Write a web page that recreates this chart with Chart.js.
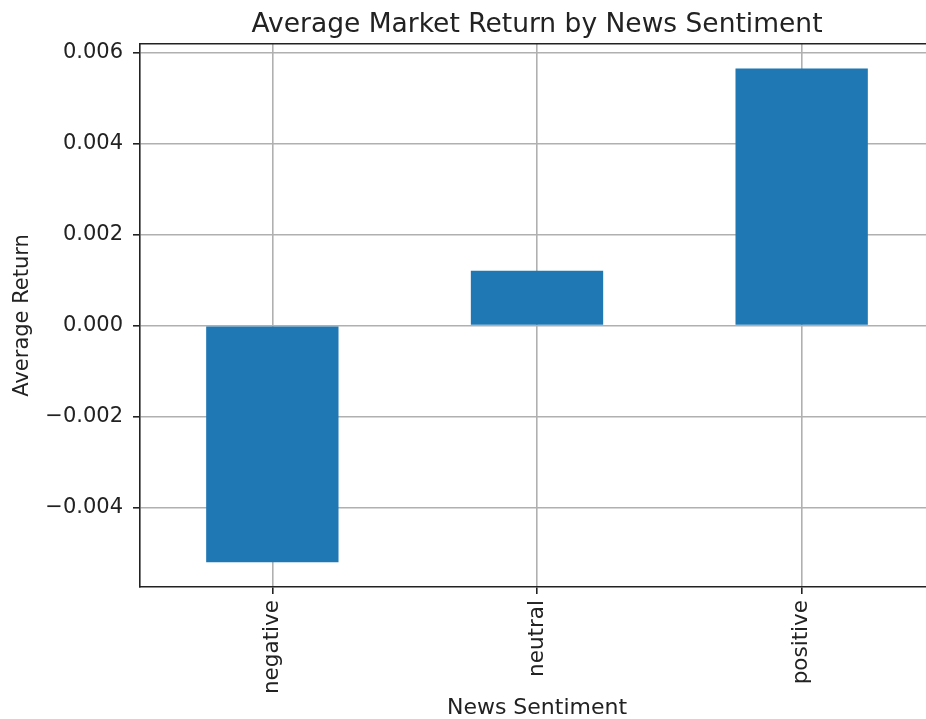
<!DOCTYPE html>
<html>
<head>
<meta charset="utf-8">
<script src="https://cdn.jsdelivr.net/npm/chart.js@4"></script>
<style>
  html, body { margin: 0; padding: 0; background: #fff; overflow: hidden; }
  canvas { display: block; }
</style>
</head>
<body>
<canvas id="myChart" width="940" height="719"></canvas>
<script>
var categories = ['negative', 'neutral', 'positive'];
var avgReturns = [-0.00521, 0.00121, 0.00566];
var yTickValues = [-0.004, -0.002, 0, 0.002, 0.004, 0.006];

// matplotlib-style 5% margins around the data
var dataMin = Math.min(0, Math.min.apply(null, avgReturns));
var dataMax = Math.max(0, Math.max.apply(null, avgReturns));
var margin = (dataMax - dataMin) * 0.05;

var textColor = '#222222';
var gridColor = '#b0b0b0';
var spineColor = '#222222';
var font = 'DejaVu Sans';

// top spine (right one falls off the picture)
var topSpine = {
  id: 'topSpine',
  afterDraw: function (chart) {
    var a = chart.chartArea;
    var c = chart.ctx;
    c.save();
    c.strokeStyle = spineColor;
    c.lineWidth = 1.6;
    c.beginPath();
    c.moveTo(a.left, a.top);
    c.lineTo(a.right, a.top);
    c.stroke();
    c.restore();
  }
};

var ctx = document.getElementById('myChart').getContext('2d');

var myChart = new Chart(ctx, {
  type: 'bar',
  data: {
    labels: categories,
    datasets: [{
      label: 'Average Return',
      data: avgReturns,
      backgroundColor: '#1f77b4',
      borderWidth: 0,
      barPercentage: 0.5,
      categoryPercentage: 1.0
    }]
  },
  options: {
    responsive: false,
    animation: false,
    layout: {
      padding: { left: 0, right: 6, top: 0, bottom: 0 }
    },
    plugins: {
      legend: { display: false },
      tooltip: { enabled: false },
      title: {
        display: true,
        text: 'Average Market Return by News Sentiment',
        fullSize: false,
        color: textColor,
        font: { family: font, size: 26.5, weight: 'normal' },
        padding: { top: 9, bottom: 3 }
      }
    },
    scales: {
      x: {
        z: 1,
        offset: true,
        afterFit: function (scale) { scale.height = 132; },
        grid: {
          display: true,
          offset: false,
          color: gridColor,
          lineWidth: 1.6,
          tickColor: spineColor,
          tickLength: 7
        },
        border: { display: true, color: spineColor, width: 1.6 },
        ticks: {
          color: textColor,
          font: { family: font, size: 21.5 },
          minRotation: 90,
          maxRotation: 90,
          padding: 6
        },
        title: {
          display: true,
          text: 'News Sentiment',
          color: textColor,
          font: { family: font, size: 22 },
          padding: { top: 0, bottom: -2 }
        }
      },
      y: {
        z: 1,
        min: dataMin - margin,
        max: dataMax + margin,
        afterFit: function (scale) { scale.width = 140; },
        afterBuildTicks: function (scale) {
          scale.ticks = yTickValues.map(function (v) { return { value: v }; });
        },
        grid: {
          display: true,
          color: gridColor,
          lineWidth: 1.6,
          tickColor: spineColor,
          tickLength: 7
        },
        border: { display: true, color: spineColor, width: 1.6 },
        ticks: {
          color: textColor,
          font: { family: font, size: 21 },
          padding: 10,
          callback: function (value) {
            return value.toFixed(3).replace('-', '\u2212');
          }
        },
        title: {
          display: true,
          text: 'Average Return',
          color: textColor,
          font: { family: font, size: 21 },
          padding: { top: 10, bottom: 0 }
        }
      }
    }
  },
  plugins: [topSpine]
});
</script>
</body>
</html>
